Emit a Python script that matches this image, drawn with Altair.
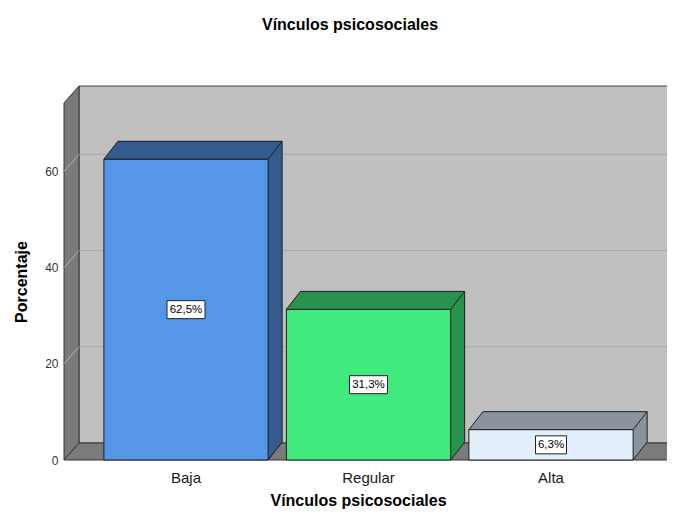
import altair as alt
import pandas as pd

# ---------------- data ----------------
categories = ["Baja", "Regular", "Alta"]
percentages = [62.5, 31.3, 6.3]
value_labels = ["62,5%", "31,3%", "6,3%"]
y_ticks = [0, 20, 40, 60]
grid_values = [20, 40, 60]
y_max = 74.2

# ---------------- style ----------------
front_colors = ["#5596E6", "#40EA7E", "#E2EFFB"]
dark_colors = ["#355A8D", "#28924F", "#8B939C"]
FONT = "Liberation Sans"
EDGE = "#1E1E1E"

W, H = 588, 357                 # plot area (front plane)
WALL_DX, WALL_DY = 15, 17       # depth of the walls
BAR_DX, BAR_DY = 14, 18         # depth of the bars
STEP = 182.5
PI = 0.1
N = len(categories)
BW = STEP * (1 - PI)
PO = (W / STEP - (N - PI)) / 2
ALIGN = (122 - BW / 2) / (W - STEP * (N - PI))
h = BW / 2

df = pd.DataFrame({
    "cat": categories,
    "pct": percentages,
    "label": value_labels,
    "front": front_colors,
    "dark": dark_colors,
})
df["zero"] = 0
grid_df = pd.DataFrame({"v": grid_values})
frame_df = pd.DataFrame({"top": [y_max], "bottom": [0]})

xs = alt.Scale(domain=categories, paddingInner=PI, paddingOuter=PO, align=ALIGN)
ys = alt.Scale(domain=[0, y_max], nice=False, zero=True)

x_axis = alt.Axis(domain=False, ticks=False, labelPadding=10, labelFontSize=15,
                  labelColor="#1A1A1A", labelAngle=0, titleFontSize=16,
                  titleFontWeight="bold", titleColor="#000000", titlePadding=7)
y_axis = alt.Axis(values=y_ticks, domain=False, ticks=False, grid=False,
                  labelPadding=6, labelFontSize=12, labelColor="#333333",
                  titleFontSize=16, titleFontWeight="bold", titleColor="#000000",
                  titleX=-43, titleBaseline="middle")

X = alt.X("cat:N", scale=xs, axis=x_axis, sort=categories, title="Vínculos psicosociales")


def Y(field):
    return alt.Y(f"{field}:Q", scale=ys, axis=y_axis, title="Porcentaje")


# ---------------- frame ----------------
back_wall = alt.Chart(frame_df).mark_rect(
    fill="#C0C0C0", stroke="#444444", strokeWidth=1,
    yOffset=-WALL_DY, y2Offset=-WALL_DY
).encode(x=alt.value(WALL_DX), x2=alt.value(W + WALL_DX + 30), y=Y("top"), y2="bottom")

back_grid = alt.Chart(grid_df).mark_rule(color="#A9A9A9", yOffset=-WALL_DY).encode(
    x=alt.value(WALL_DX), x2=alt.value(W + WALL_DX + 30), y=Y("v"))

left_wall = alt.Chart(frame_df).mark_point(
    shape=f"M0,0L{WALL_DX},{-WALL_DY}L{WALL_DX},{H - WALL_DY}L0,{H}Z",
    size=4, filled=True, fill="#7A7A7A", stroke="#333333", strokeWidth=1, opacity=1
).encode(x=alt.value(0), y=Y("top"))

left_grid = alt.Chart(grid_df).mark_rule(color="#B4B4B4", y2Offset=-WALL_DY).encode(
    x=alt.value(0), x2=alt.value(WALL_DX), y=Y("v"), y2="v")

floor = alt.Chart(frame_df).mark_point(
    shape=f"M0,0L{WALL_DX},{-WALL_DY}L{W + WALL_DX + 30},{-WALL_DY}L{W + 30},0Z",
    size=4, filled=True, fill="#7B7B7B", stroke="#333333", strokeWidth=1, opacity=1
).encode(x=alt.value(0), y=Y("bottom"))

# ---------------- bars ----------------
bar_back = alt.Chart(df).mark_bar(
    width=BW, xOffset=BAR_DX, x2Offset=BAR_DX, yOffset=-BAR_DY, y2Offset=-BAR_DY
).encode(x=X, y=Y("pct"), fill=alt.Fill("dark:N", scale=None))

bar_corner = alt.Chart(df).mark_point(
    shape=f"M{h},{-BAR_DY}L{h + BAR_DX},{-BAR_DY}L{h},0Z",
    size=4, filled=True, opacity=1, strokeWidth=1
).encode(x=X, y=Y("zero"), fill=alt.Fill("dark:N", scale=None),
         stroke=alt.Stroke("dark:N", scale=None))

bar_top = alt.Chart(df).mark_point(
    shape=f"M{-h},0L{h},0L{h + BAR_DX},{-BAR_DY}L{-h + BAR_DX},{-BAR_DY}Z",
    size=4, filled=True, opacity=1, stroke=EDGE, strokeWidth=1
).encode(x=X, y=Y("pct"), fill=alt.Fill("dark:N", scale=None))

side_edge = alt.Chart(df).mark_rule(
    color=EDGE, xOffset=h + BAR_DX, yOffset=-BAR_DY, y2Offset=-BAR_DY
).encode(x=X, y=Y("pct"), y2="zero")

bottom_edge = alt.Chart(df).mark_rule(
    color=EDGE, xOffset=h, x2Offset=h + BAR_DX, y2Offset=-BAR_DY
).encode(x=X, x2="cat", y=Y("zero"), y2="zero")

bar_front = alt.Chart(df).mark_bar(width=BW, stroke=EDGE, strokeWidth=1).encode(
    x=X, y=Y("pct"), fill=alt.Fill("front:N", scale=None))

# ---------------- value labels ----------------
box_paths = []
for lab in value_labels:
    bw = 7 * len(lab) + 3
    box_paths.append(f"M{-bw / 2},-9L{bw / 2},-9L{bw / 2},9L{-bw / 2},9Z")

label_box = alt.Chart(df).transform_calculate(half="datum.pct / 2").mark_point(
    size=4, filled=True, fill="#FFFFFF", stroke="#222222", strokeWidth=1, opacity=1
).encode(x=X, y=Y("half"),
         shape=alt.Shape("cat:N", scale=alt.Scale(domain=categories, range=box_paths), legend=None))

label_text = alt.Chart(df).transform_calculate(half="datum.pct / 2").mark_text(
    fontSize=11.5, color="#000000", baseline="middle", align="center"
).encode(x=X, y=Y("half"), text="label:N")

chart = alt.layer(
    back_wall, back_grid, left_wall, left_grid, floor,
    bar_back, bar_corner, bar_top, side_edge, bottom_edge, bar_front,
    label_box, label_text
).properties(
    width=W, height=H,
    title=alt.Title("Vínculos psicosociales", fontSize=16, fontWeight="bold",
                    color="#000000", offset=51, frame="group", anchor="middle", dx=-8),
    autosize=alt.AutoSizeParams(type="none"),
    padding={"left": 56, "top": 95, "right": 15, "bottom": 51},
).configure(font=FONT).configure_view(strokeWidth=0)

chart.save("out.html", embed_options={"renderer": "svg", "actions": False})
